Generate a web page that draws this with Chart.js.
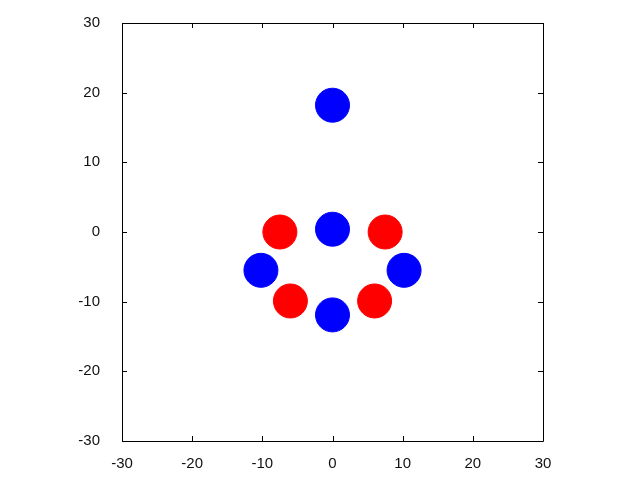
<!DOCTYPE html>
<html>
<head>
<meta charset="utf-8">
<script src="https://cdn.jsdelivr.net/npm/chart.js@4"></script>
<style>
html, body { margin: 0; padding: 0; background: #fff; }
canvas { display: block; }
</style>
</head>
<body>
<canvas id="scatterChart" width="640" height="480"></canvas>
<script>
// points
var blueX = [0, -10.2, 10.2, 0, 0];
var blueY = [18.2, -5.5, -5.5, 0.4, -11.9];
var redX = [-7.5, 7.5, -6.0, 6.0];
var redY = [0, 0, -9.9, -9.9];
var tickValues = [-30, -20, -10, 0, 10, 20, 30];

function toPoints(xs, ys) {
  return xs.map(function (x, i) { return { x: x, y: ys[i] }; });
}

// gnuplot style frame with inward ticks on all four sides
var frameTicks = {
  id: 'frameTicks',
  afterDraw: function (chart) {
    var ctx = chart.ctx;
    var a = chart.chartArea;
    var xs = chart.scales.x;
    var ys = chart.scales.y;
    var len = 5;
    ctx.save();
    ctx.strokeStyle = '#000';
    ctx.lineWidth = 1;
    ctx.beginPath();
    ctx.rect(Math.round(a.left) + 0.5, Math.round(a.top) + 0.5,
      Math.round(a.right - a.left), Math.round(a.bottom - a.top));
    tickValues.forEach(function (v) {
      var px = Math.round(xs.getPixelForValue(v)) + 0.5;
      ctx.moveTo(px, a.bottom);
      ctx.lineTo(px, a.bottom - len);
      ctx.moveTo(px, a.top);
      ctx.lineTo(px, a.top + len);
      var py = Math.round(ys.getPixelForValue(v)) + 0.5;
      ctx.moveTo(a.left, py);
      ctx.lineTo(a.left + len, py);
      ctx.moveTo(a.right, py);
      ctx.lineTo(a.right - len, py);
    });
    ctx.stroke();
    ctx.restore();
  }
};

var ctxS = document.getElementById('scatterChart').getContext('2d');
var myScatter = new Chart(ctxS, {
  type: 'scatter',
  data: {
    datasets: [{
      label: 'red',
      data: toPoints(redX, redY),
      backgroundColor: '#ff0000',
      borderColor: '#ff0000',
      borderWidth: 1,
      pointRadius: 17,
      pointHoverRadius: 17
    },
    {
      label: 'blue',
      data: toPoints(blueX, blueY),
      backgroundColor: '#0000ff',
      borderColor: '#0000ff',
      borderWidth: 1,
      pointRadius: 17,
      pointHoverRadius: 17
    }]
  },
  options: {
    responsive: false,
    animation: false,
    events: [],
    layout: { padding: { top: 20, right: 97, left: 0, bottom: 0 } },
    plugins: {
      legend: { display: false },
      tooltip: { enabled: false }
    },
    scales: {
      x: {
        type: 'linear',
        min: -30,
        max: 30,
        afterFit: function (s) { s.height = 39; },
        afterBuildTicks: function (s) { s.ticks = tickValues.map(function (v) { return { value: v }; }); },
        grid: { display: false },
        border: { display: false },
        ticks: {
          padding: 6,
          color: '#111',
          font: { family: 'Liberation Sans, Arial, sans-serif', size: 15 }
        }
      },
      y: {
        type: 'linear',
        min: -30,
        max: 30,
        afterFit: function (s) { s.width = 122; },
        afterBuildTicks: function (s) { s.ticks = tickValues.map(function (v) { return { value: v }; }); },
        grid: { display: false },
        border: { display: false },
        ticks: {
          padding: 14,
          color: '#111',
          font: { family: 'Liberation Sans, Arial, sans-serif', size: 15 }
        }
      }
    }
  },
  plugins: [frameTicks]
});
</script>
</body>
</html>
